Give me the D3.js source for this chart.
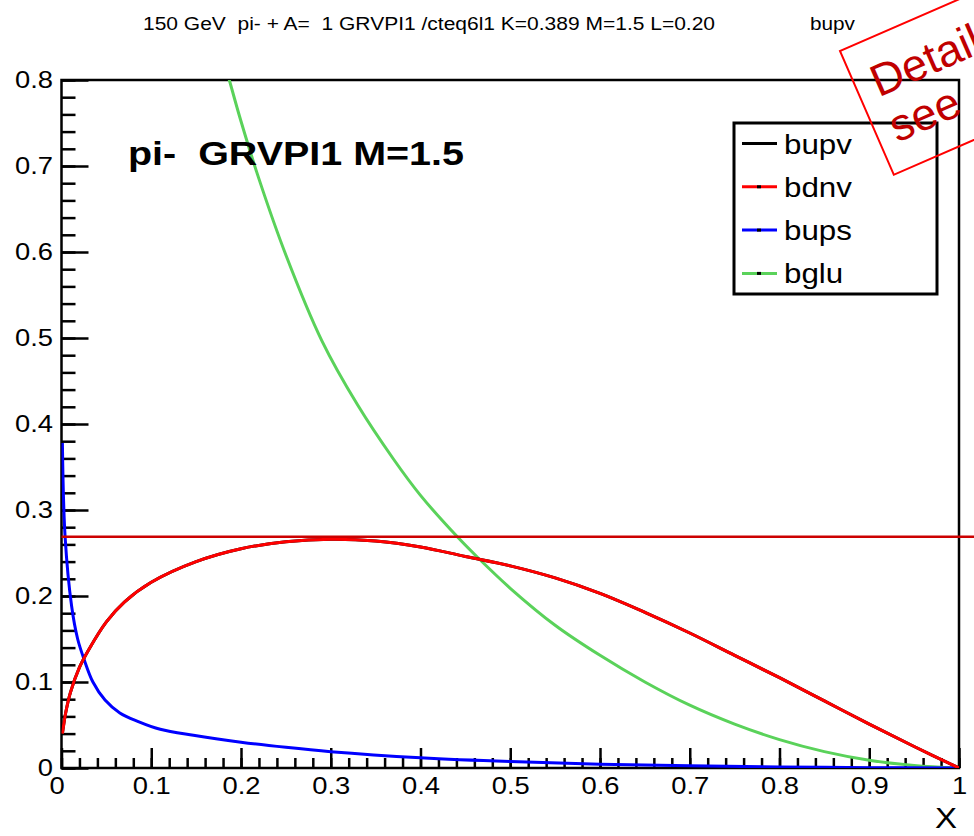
<!DOCTYPE html>
<html>
<head>
<meta charset="utf-8">
<script src="https://cdn.jsdelivr.net/npm/d3@7"></script>
<style>
  body { margin: 0; background: #fff; }
  svg { display: block; }
  text { font-family: "Liberation Sans", Arial, Helvetica, sans-serif; white-space: pre; }
</style>
</head>
<body>
<svg id="chart" width="974" height="836"></svg>
<script>
// values
var xv   = [0.001, 0.005, 0.01, 0.02, 0.03, 0.05, 0.07, 0.1, 0.15, 0.2, 0.25, 0.3, 0.35, 0.4, 0.45, 0.5, 0.55, 0.6, 0.65, 0.7, 0.75, 0.8, 0.85, 0.9, 0.95, 1.0];
var bdnv = [0.040, 0.066, 0.088, 0.117, 0.137, 0.170, 0.193, 0.216, 0.240, 0.255, 0.263, 0.266, 0.264, 0.257, 0.246, 0.235, 0.221, 0.203, 0.181, 0.157, 0.131, 0.105, 0.078, 0.051, 0.025, 0.0];
var bupv = bdnv.slice(); // identical, hidden under bdnv
var bupsX = [0.001, 0.004, 0.0113, 0.018, 0.0254, 0.035, 0.0485, 0.065, 0.0856, 0.11, 0.147, 0.2, 0.25, 0.3, 0.4, 0.5, 0.6, 0.7, 0.8, 0.9, 1.0];
var bups  = [0.378, 0.269, 0.188, 0.150, 0.1256, 0.100, 0.079, 0.064, 0.054, 0.045, 0.038, 0.030, 0.024, 0.019, 0.012, 0.0075, 0.0045, 0.0025, 0.0012, 0.0004, 0.0];
var bgluX = [0.18, 0.187, 0.2, 0.22, 0.25, 0.29, 0.33, 0.37, 0.4, 0.44, 0.464, 0.5, 0.55, 0.6, 0.65, 0.7, 0.75, 0.8, 0.85, 0.9, 0.95, 1.0];
var bglu  = [0.826, 0.80, 0.752, 0.685, 0.5965, 0.497, 0.422, 0.359, 0.317, 0.270, 0.2445, 0.209, 0.166, 0.131, 0.100, 0.073, 0.051, 0.033, 0.019, 0.009, 0.003, 0.0];
var refLevel = 0.269;
var refXRange = [0, 1.017];

var xTicks = [0, 0.1, 0.2, 0.3, 0.4, 0.5, 0.6, 0.7, 0.8, 0.9, 1];
var yTicks = [0, 0.1, 0.2, 0.3, 0.4, 0.5, 0.6, 0.7, 0.8];
var xMinor = d3.range(0, 1.0001, 0.02);
var yMinor = d3.range(0, 0.8001, 0.02);

var legendNames  = ["bupv", "bdnv", "bups", "bglu"];
var legendColors = ["#000000", "#ff0000", "#0000ff", "#5ad25a"];

var svg = d3.select("#chart");
var x = d3.scaleLinear().domain([0, 1]).range([61.5, 959]);
var y = d3.scaleLinear().domain([0, 0.8]).range([768, 80]);
var fmt = d3.format("~g");

// ROOT text is drawn a bit wider than Helvetica
function stretch(sel, k) {
  sel.each(function() {
    var w = this.getComputedTextLength();
    d3.select(this).attr("textLength", w * k).attr("lengthAdjust", "spacingAndGlyphs");
  });
}
function fitWidth(sel, width) {
  sel.attr("textLength", width).attr("lengthAdjust", "spacingAndGlyphs");
}

svg.append("clipPath").attr("id", "plotclip")
  .append("rect")
    .attr("x", x(0)).attr("y", y(0.8))
    .attr("width", x(1) - x(0)).attr("height", y(0) - y(0.8));

// axes
var yg = svg.append("g").attr("transform", "translate(" + x(0) + ",0)");
yg.call(d3.axisLeft(y).tickValues(yMinor).tickSize(-14).tickFormat(""));
var yg2 = svg.append("g").attr("transform", "translate(" + x(0) + ",0)");
yg2.call(d3.axisLeft(y).tickValues(yTicks).tickSize(-27).tickPadding(8.5).tickFormat(fmt));

var xg = svg.append("g").attr("transform", "translate(0," + y(0) + ")");
xg.call(d3.axisBottom(x).tickValues(xMinor).tickSize(-10).tickFormat(""));
var xg2 = svg.append("g").attr("transform", "translate(0," + y(0) + ")");
xg2.call(d3.axisBottom(x).tickValues(xTicks).tickSize(-20).tickPadding(9).tickFormat(fmt));

svg.selectAll(".domain").remove();
svg.selectAll(".tick line").attr("stroke", "#000").attr("stroke-width", 2.5);
svg.selectAll(".tick text").attr("font-size", 24).attr("fill", "#000")
  .attr("font-family", "'Liberation Sans', Arial, sans-serif");
xg2.selectAll(".tick text").filter(function(d) { return d === 0; }).attr("dx", -5);
stretch(svg.selectAll(".tick text"), 1.14);

// frame
svg.append("rect")
  .attr("x", x(0)).attr("y", y(0.8))
  .attr("width", x(1) - x(0)).attr("height", y(0) - y(0.8))
  .attr("fill", "none").attr("stroke", "#000").attr("stroke-width", 2.5);

// curves
var plot = svg.append("g").attr("clip-path", "url(#plotclip)");
function curve(xs, ys, color, w) {
  var line = d3.line()
    .x(function(d) { return x(d[0]); })
    .y(function(d) { return y(d[1]); })
    .curve(d3.curveCatmullRom.alpha(0.5));
  plot.append("path")
    .datum(d3.zip(xs, ys))
    .attr("d", line)
    .attr("fill", "none").attr("stroke", color).attr("stroke-width", w);
}
curve(bgluX, bglu, legendColors[3], 3);
curve(bupsX, bups, legendColors[2], 3);
curve(xv, bupv, legendColors[0], 3);
curve(xv, bdnv, legendColors[1], 3);

// reference level line, runs past the frame
svg.append("line")
  .attr("x1", x(refXRange[0])).attr("x2", x(refXRange[1]))
  .attr("y1", y(refLevel)).attr("y2", y(refLevel))
  .attr("stroke", "#cc0000").attr("stroke-width", 2.5);

// texts
var t1 = svg.append("text").attr("x", 143).attr("y", 30).attr("font-size", 18)
  .text("150 GeV  pi- + A=  1 GRVPI1 /cteq6l1 K=0.389 M=1.5 L=0.20");
fitWidth(t1, 572);
var t2 = svg.append("text").attr("x", 810).attr("y", 30).attr("font-size", 18).text("bupv");
fitWidth(t2, 45);
var t3 = svg.append("text").attr("x", 128).attr("y", 165).attr("font-size", 33)
  .attr("font-weight", "bold").text("pi-  GRVPI1 M=1.5");
fitWidth(t3, 336);
var t4 = svg.append("text").attr("x", 957).attr("y", 828).attr("font-size", 30)
  .attr("text-anchor", "end").text("X");
stretch(t4, 1.1);

// legend
var lg = svg.append("g");
lg.append("rect").attr("x", 734).attr("y", 123).attr("width", 203).attr("height", 171)
  .attr("fill", "#fff").attr("stroke", "#000").attr("stroke-width", 3);
legendNames.forEach(function(name, i) {
  var cy = 143.5 + i * 43.3;
  lg.append("line").attr("x1", 742).attr("x2", 777).attr("y1", cy).attr("y2", cy)
    .attr("stroke", legendColors[i]).attr("stroke-width", 3);
  lg.append("rect").attr("x", 757).attr("y", cy - 1.5).attr("width", 4).attr("height", 3).attr("fill", "#000");
  var tt = lg.append("text").attr("x", 784).attr("y", cy + 10).attr("font-size", 27).text(name);
  stretch(tt, 1.16);
});

// stamp in the corner
var st = svg.append("g").attr("transform", "translate(840,51) rotate(-23.5)");
st.append("rect").attr("x", 0).attr("y", 0).attr("width", 320).attr("height", 135)
  .attr("fill", "none").attr("stroke", "#ff0000").attr("stroke-width", 2);
st.append("text").attr("x", 17).attr("y", 58).attr("font-size", 45).attr("fill", "#c00000").text("Details");
st.append("text").attr("x", 16).attr("y", 107).attr("font-size", 45).attr("fill", "#c00000").text("see");
</script>
</body>
</html>
